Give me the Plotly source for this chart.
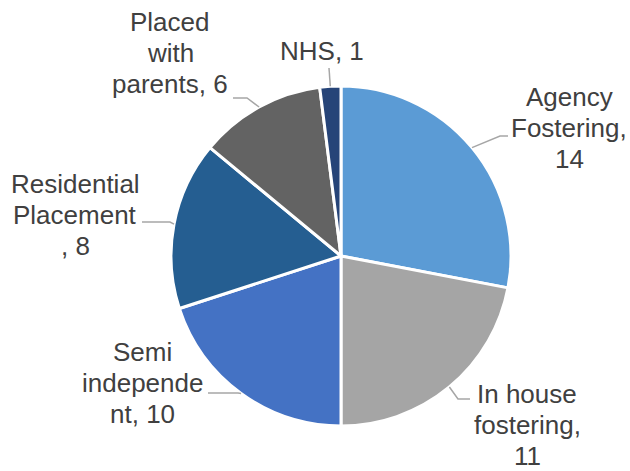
import math
import plotly.graph_objects as go

# Placement breakdown
categories = ["Agency Fostering", "In house fostering", "Semi independent",
              "Residential Placement", "Placed with parents", "NHS"]
values = [14, 11, 10, 8, 6, 1]
label_lines = [
    ["Agency", "Fostering,", "14"],
    ["In house", "fostering,", "11"],
    ["Semi", "independe", "nt, 10"],
    ["Residential", "Placement", ", 8"],
    ["Placed", "with", "parents, 6"],
    ["NHS, 1"],
]
colors = ["#5B9BD5", "#A5A5A5", "#4472C4", "#255E91", "#636363", "#264478"]

W, H = 630, 471
CX, CY, R = 341, 256, 170
LINE_H = 31

# label block centres and leader-line routing (elbow, end), in pixels
label_pos = [(569, 128), (527, 425), (142, 383), (75, 215), (170, 53), (322, 51)]
leader = [
    [(500, 136), (508, 136)],
    [(458, 399), (470, 399)],
    [(238, 393), (208, 393)],
    [(170, 222), (142, 222)],
    [(247, 98), (233, 98)],
    [(329, 68)],
]

fig = go.Figure()
fig.add_trace(go.Pie(
    labels=categories, values=values, sort=False, direction="clockwise",
    rotation=0, textinfo="none", hoverinfo="label+value",
    marker=dict(colors=colors, line=dict(color="white", width=3)),
    domain=dict(x=[(CX - R) / W, (CX + R) / W],
                y=[1 - (CY + R) / H, 1 - (CY - R) / H]),
    showlegend=False,
))

# leader lines start at each slice's mid-angle on the rim
total = sum(values)
cum = 0
for i, v in enumerate(values):
    ang = 2 * math.pi * (cum + v / 2) / total
    cum += v
    ax, ay = CX + R * math.sin(ang), CY - R * math.cos(ang)
    pts = [(ax, ay)] + leader[i]
    path = "M " + " L ".join(f"{x:.1f},{y:.1f}" for x, y in pts)
    fig.add_shape(type="path", path=path, xref="x", yref="y",
                  line=dict(color="#A6A6A6", width=1.5))
    lx, ly = label_pos[i]
    n = len(label_lines[i])
    for k, line in enumerate(label_lines[i]):
        fig.add_annotation(x=lx, y=ly + (k - (n - 1) / 2) * LINE_H,
                           xref="x", yref="y", showarrow=False, text=line,
                           xanchor="center", yanchor="middle",
                           font=dict(family="Liberation Sans", size=26, color="#404040"))

fig.update_layout(
    width=W, height=H, margin=dict(l=0, r=0, t=0, b=0),
    paper_bgcolor="white", plot_bgcolor="rgba(0,0,0,0)",
    xaxis=dict(range=[0, W], visible=False, fixedrange=True),
    yaxis=dict(range=[H, 0], visible=False, fixedrange=True),
)
fig.write_html("out.html")
